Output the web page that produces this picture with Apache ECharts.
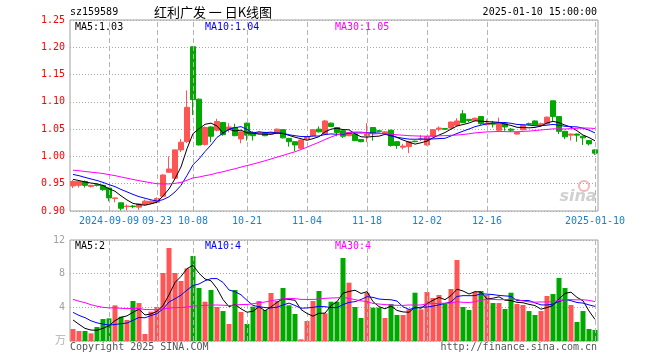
<!DOCTYPE html>
<html><head><meta charset="utf-8">
<script src="https://cdn.jsdelivr.net/npm/echarts@6/dist/echarts.min.js"></script>
<style>html,body{margin:0;padding:0;background:#fff}#c{width:660px;height:360px}</style>
</head><body><div id="c"></div>
<script>
const dates = [
'2024-08-30',
'2024-09-02','2024-09-03','2024-09-04','2024-09-05','2024-09-06',
'2024-09-09','2024-09-10','2024-09-11','2024-09-12','2024-09-13',
'2024-09-18','2024-09-19','2024-09-20',
'2024-09-23','2024-09-24','2024-09-25','2024-09-26','2024-09-27',
'2024-09-30',
'2024-10-08','2024-10-09','2024-10-10','2024-10-11',
'2024-10-14','2024-10-15','2024-10-16','2024-10-17','2024-10-18',
'2024-10-21','2024-10-22','2024-10-23','2024-10-24','2024-10-25',
'2024-10-28','2024-10-29','2024-10-30','2024-10-31','2024-11-01',
'2024-11-04','2024-11-05','2024-11-06','2024-11-07','2024-11-08',
'2024-11-11','2024-11-12','2024-11-13','2024-11-14','2024-11-15',
'2024-11-18','2024-11-19','2024-11-20','2024-11-21','2024-11-22',
'2024-11-25','2024-11-26','2024-11-27','2024-11-28','2024-11-29',
'2024-12-02','2024-12-03','2024-12-04','2024-12-05','2024-12-06',
'2024-12-09','2024-12-10','2024-12-11','2024-12-12','2024-12-13',
'2024-12-16','2024-12-17','2024-12-18','2024-12-19','2024-12-20',
'2024-12-23','2024-12-24','2024-12-25','2024-12-26','2024-12-27',
'2024-12-30','2024-12-31',
'2025-01-02','2025-01-03',
'2025-01-06','2025-01-07','2025-01-08','2025-01-09','2025-01-10'
];
const opens = [0.946,0.947,0.954,0.945,0.948,0.947,0.942,0.923,0.915,0.908,0.909,0.907,0.912,0.914,0.916,0.927,0.971,0.960,1.012,1.027,
1.201,1.105,1.022,1.054,1.048,1.062,1.050,1.053,1.032,1.061,1.044,1.042,1.044,1.041,1.043,1.049,1.033,1.027,1.015,1.032,
1.038,1.050,1.041,1.061,1.053,1.047,1.038,1.041,1.031,1.038,1.053,1.047,1.042,1.048,1.027,1.017,1.018,1.028,1.031,1.021,
1.037,1.050,1.051,1.052,1.057,1.078,1.068,1.066,1.073,1.058,1.061,1.048,1.060,1.050,1.041,1.049,1.060,1.065,1.058,1.060,
1.102,1.073,1.046,1.039,1.041,1.037,1.029,1.012];
const closes = [0.954,0.954,0.947,0.947,0.947,0.939,0.924,0.924,0.905,0.909,0.908,0.913,0.918,0.918,0.923,0.966,0.977,1.012,1.026,1.090,
1.104,1.021,1.053,1.037,1.064,1.040,1.054,1.038,1.045,1.039,1.038,1.044,1.038,1.044,1.050,1.034,1.027,1.021,1.030,1.036,
1.049,1.045,1.065,1.055,1.044,1.037,1.043,1.029,1.027,1.041,1.043,1.046,1.045,1.020,1.020,1.019,1.027,1.027,1.032,1.036,
1.049,1.052,1.050,1.063,1.065,1.062,1.066,1.070,1.060,1.061,1.059,1.062,1.054,1.048,1.044,1.057,1.059,1.058,1.060,1.072,
1.073,1.046,1.036,1.041,1.039,1.034,1.023,1.006];
const highs = [0.957,0.956,0.956,0.948,0.949,0.948,0.943,0.924,0.915,0.912,0.911,0.914,0.921,0.919,0.925,0.967,1.000,1.013,1.032,1.121,
1.201,1.106,1.055,1.055,1.069,1.063,1.061,1.060,1.046,1.062,1.046,1.045,1.045,1.045,1.051,1.050,1.034,1.028,1.031,1.037,
1.050,1.055,1.067,1.062,1.054,1.050,1.044,1.042,1.032,1.061,1.054,1.048,1.046,1.049,1.028,1.023,1.028,1.029,1.039,1.037,
1.050,1.055,1.052,1.064,1.070,1.085,1.068,1.071,1.074,1.068,1.065,1.071,1.061,1.052,1.045,1.058,1.062,1.066,1.062,1.073,
1.102,1.074,1.047,1.042,1.042,1.038,1.030,1.013];
const lows = [0.942,0.943,0.943,0.943,0.945,0.937,0.918,0.916,0.901,0.901,0.905,0.902,0.910,0.912,0.914,0.925,0.970,0.958,1.008,1.025,
1.076,1.020,1.020,1.026,1.046,1.038,1.044,1.037,1.024,1.029,1.029,1.041,1.037,1.040,1.042,1.033,1.018,1.010,1.013,1.031,
1.037,1.044,1.040,1.054,1.037,1.034,1.037,1.028,1.026,1.026,1.029,1.045,1.041,1.018,1.014,1.013,1.006,1.026,1.028,1.020,
1.036,1.046,1.049,1.051,1.056,1.061,1.063,1.065,1.058,1.057,1.053,1.047,1.047,1.045,1.040,1.048,1.057,1.057,1.055,1.059,
1.065,1.041,1.032,1.029,1.027,1.021,1.020,1.003];
// volumes (万)
const volumes = [1.43,1.19,1.19,0.91,1.66,2.61,2.69,4.24,2.89,2.50,4.75,4.51,0.83,3.49,4.04,8.08,11.05,8.08,7.13,8.63,
10.10,6.30,4.67,6.06,4.04,3.56,2.02,6.06,3.45,2.02,4.08,4.75,3.68,5.70,4.75,6.30,4.24,3.21,0.20,2.38,
4.75,5.94,3.29,4.67,4.67,9.86,6.93,4.04,2.73,5.74,3.96,3.96,2.73,4.40,3.09,3.09,3.76,5.74,3.76,5.82,
5.11,5.47,4.40,6.18,9.62,4.04,3.68,5.82,5.94,5.47,4.51,4.51,3.80,5.74,4.40,4.28,3.56,3.09,3.56,5.35,
5.58,7.49,6.30,4.28,2.26,3.56,1.43,1.31];
// estimated values before the window (only used for moving averages)
const priorCloses = [0.985,0.988,0.984,0.982,0.979,0.983,0.981,0.978,0.976,0.979,0.977,0.980,0.975,0.973,
0.978,0.976,0.979,0.975,0.973,0.973,0.977,0.978,0.976,0.975,0.974,0.965,0.960,0.957,0.954];
const priorVolumes = [7.8,6.5,8.2,6.9,6.67,4.6,3.9,4.8,3.5,4.2,5.1,3.8,4.4,4.0,
6.2,7.5,5.9,7.1,6.8,6.6,4.8,3.9,4.6,4.1,4.1,3.79,3.59,1.91,1.78];
const labelDates = ['2024-09-09','2024-09-23','2024-10-08','2024-10-21','2024-11-04','2024-11-18','2024-12-02','2024-12-16','2025-01-10'];

const UP = '#ff5555', DOWN = '#00a800';
const MONO = 'DejaVu Sans Mono';

function ma(prior, vals, n) {
  const all = prior.concat(vals), out = [];
  for (let i = prior.length; i < all.length; i++) {
    let s = 0; for (let k = i - n + 1; k <= i; k++) s += all[k];
    out.push(+(s / n).toFixed(4));
  }
  return out;
}
const ma5 = ma(priorCloses, closes, 5), ma10 = ma(priorCloses, closes, 10), ma30 = ma(priorCloses, closes, 30);
const vma5 = ma(priorVolumes, volumes, 5), vma10 = ma(priorVolumes, volumes, 10), vma30 = ma(priorVolumes, volumes, 30);
const last = a => a[a.length - 1];

const kData = dates.map((d, i) => [opens[i], closes[i], lows[i], highs[i]]);
const vData = volumes.map((v, i) => ({value: v, itemStyle: {color: closes[i] >= opens[i] ? UP : DOWN}}));

const vLines = {
  symbol: ['none', 'none'], silent: true, animation: false,
  label: {show: false},
  lineStyle: {type: [5, 3], color: '#b4b4b4', width: 1},
  data: labelDates.map(d => ({xAxis: d}))
};
const labelSet = new Set(labelDates);

function txt(text, x, y, color, font, align) {
  return {type: 'text', x: x, y: y, silent: true,
    style: {text: text, fill: color, font: font, textAlign: align || 'left', align: align || 'left', textVerticalAlign: 'middle', verticalAlign: 'middle'}};
}

const chart = echarts.init(document.getElementById('c'), null, {renderer: 'canvas'});
chart.setOption({
  animation: false,
  backgroundColor: '#fff',
  grid: [
    {left: 70, top: 20, width: 528, height: 191, show: true, borderColor: '#a0a0a0', borderWidth: 1, backgroundColor: 'transparent'},
    {left: 70, top: 240, width: 528, height: 101, show: true, borderColor: '#a0a0a0', borderWidth: 1, backgroundColor: 'transparent'}
  ],
  xAxis: [
    {type: 'category', gridIndex: 0, data: dates, boundaryGap: true,
      axisLine: {show: false}, axisTick: {show: false}, splitLine: {show: false},
      axisLabel: {color: '#1a7fd0', fontFamily: MONO, fontSize: 10, margin: 5,
        interval: (i, v) => labelSet.has(v),
        formatter: v => (v === '2024-09-09' || v === '2025-01-10') ? v : v.slice(5)}},
    {type: 'category', gridIndex: 1, data: dates, boundaryGap: true,
      axisLine: {show: false}, axisTick: {show: false}, splitLine: {show: false}, axisLabel: {show: false}}
  ],
  yAxis: [
    {type: 'value', gridIndex: 0, min: 0.90, max: 1.25, interval: 0.05,
      axisLine: {show: false}, axisTick: {show: false},
      splitLine: {show: true, lineStyle: {type: [1, 2], color: '#a8a8a8', width: 1}},
      axisLabel: {color: '#ff0000', fontFamily: MONO, fontSize: 10, margin: 5, formatter: v => v.toFixed(2)}},
    {type: 'value', gridIndex: 1, min: 0, max: 12, interval: 4,
      axisLine: {show: false}, axisTick: {show: false},
      splitLine: {show: true, lineStyle: {type: [1, 2], color: '#a8a8a8', width: 1}},
      axisLabel: {color: '#a0a0a0', fontFamily: MONO, fontSize: 10, margin: 5, formatter: v => v === 0 ? '' : String(v)}}
  ],
  series: [
    {type: 'candlestick', xAxisIndex: 0, yAxisIndex: 0, data: kData, barWidth: 5,
      itemStyle: {color: UP, color0: DOWN, borderColor: UP, borderColor0: DOWN, borderWidth: 1},
      markLine: vLines},
    {type: 'line', xAxisIndex: 0, yAxisIndex: 0, data: ma5, showSymbol: false, symbol: 'none', lineStyle: {color: '#000', width: 1}, z: 5},
    {type: 'line', xAxisIndex: 0, yAxisIndex: 0, data: ma10, showSymbol: false, symbol: 'none', lineStyle: {color: '#0000ff', width: 1}, z: 5},
    {type: 'line', xAxisIndex: 0, yAxisIndex: 0, data: ma30, showSymbol: false, symbol: 'none', lineStyle: {color: '#ff00ff', width: 1}, z: 5},
    {type: 'bar', xAxisIndex: 1, yAxisIndex: 1, data: vData, barWidth: 5, markLine: vLines},
    {type: 'line', xAxisIndex: 1, yAxisIndex: 1, data: vma5, showSymbol: false, symbol: 'none', lineStyle: {color: '#000', width: 1}, z: 5},
    {type: 'line', xAxisIndex: 1, yAxisIndex: 1, data: vma10, showSymbol: false, symbol: 'none', lineStyle: {color: '#0000ff', width: 1}, z: 5},
    {type: 'line', xAxisIndex: 1, yAxisIndex: 1, data: vma30, showSymbol: false, symbol: 'none', lineStyle: {color: '#ff00ff', width: 1}, z: 5}
  ],
  graphic: [
    txt('sz159589', 70, 12, '#000', '10px "' + MONO + '"'),
    txt('红利广发 一 日K线图', 213, 12, '#000', '13px "Noto Sans CJK SC"', 'center'),
    txt('2025-01-10 15:00:00', 597, 12, '#000', '10px "' + MONO + '"', 'right'),
    txt('MA5:' + last(ma5).toFixed(2), 75, 27, '#000', '10px "' + MONO + '"'),
    txt('MA10:' + last(ma10).toFixed(2), 205, 27, '#0000ff', '10px "' + MONO + '"'),
    txt('MA30:' + last(ma30).toFixed(2), 335, 27, '#ff00ff', '10px "' + MONO + '"'),
    txt('MA5:' + Math.floor(last(vma5)), 75, 246, '#000', '10px "' + MONO + '"'),
    txt('MA10:' + Math.floor(last(vma10)), 205, 246, '#0000ff', '10px "' + MONO + '"'),
    txt('MA30:' + Math.floor(last(vma30)), 335, 246, '#ff00ff', '10px "' + MONO + '"'),
    txt('万', 66, 340, '#b0b0b0', '11px "Noto Sans CJK SC"', 'right'),
    txt('Copyright 2025 SINA.COM', 70, 347, '#555', '10px "' + MONO + '"'),
    txt('http://finance.sina.com.cn', 597, 347, '#555', '10px "' + MONO + '"', 'right'),
    {type: 'circle', shape: {cx: 584, cy: 186, r: 5}, style: {fill: 'none', stroke: '#f2b8b8', lineWidth: 2}, silent: true},
    txt('sina', 578, 197, '#d0d0d0', 'italic bold 16px "DejaVu Sans"', 'center')
  ]
});
</script></body></html>
